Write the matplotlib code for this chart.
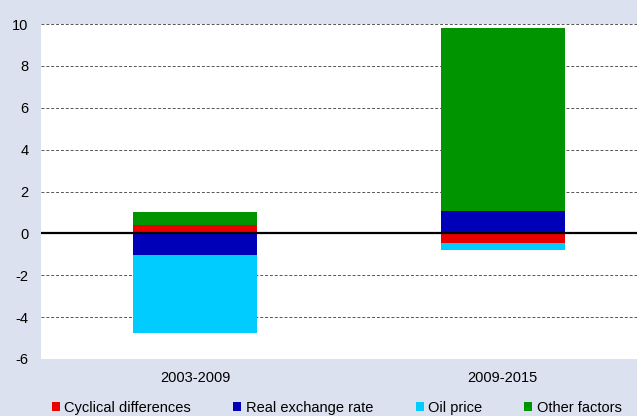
import matplotlib.pyplot as plt
import numpy as np

plt.rcParams['font.family'] = ['Liberation Sans', 'DejaVu Sans']
plt.rcParams['axes.unicode_minus'] = False

# data
periods = ["2003-2009", "2009-2015"]
labels = ["Cyclical differences", "Real exchange rate", "Oil price", "Other factors"]
cyclical = [0.39, -0.44]
real_fx = [-1.03, 1.08]
oil = [-3.74, -0.35]
other = [0.63, 8.74]
colors = ["#e80000", "#0000b8", "#00ccff", "#009400"]

series = [cyclical, real_fx, oil, other]

fig = plt.figure(figsize=(6.37, 4.16), dpi=100, facecolor="#dbe1ee")
ax = fig.add_axes([41 / 637, 1 - 359 / 416, 1 - 41 / 637, (359 - 24) / 416])
ax.set_facecolor("white")

x = np.arange(len(periods))
pos_base = np.zeros(len(periods))
neg_base = np.zeros(len(periods))
handles = []
for vals, lab, col in zip(series, labels, colors):
    vals = np.array(vals)
    base = np.where(vals >= 0, pos_base, neg_base)
    h = ax.bar(x, vals, bottom=base, width=0.403, color=col, label=lab, zorder=3)
    handles.append(h)
    pos_base = pos_base + np.where(vals >= 0, vals, 0)
    neg_base = neg_base + np.where(vals < 0, vals, 0)

ax.axhline(0, color="black", lw=1.6, zorder=4)

#gridlines
ax.set_ylim(-6, 10)
ax.set_yticks(range(-6, 11, 2))
ax.yaxis.grid(True, linestyle=(0, (3, 2)), color="#555555", lw=0.7, zorder=0)
ax.set_xlim(-0.5008, 1.437)
ax.set_xticks(x)
ax.set_xticklabels(periods)
ax.tick_params(axis="both", length=0, labelsize=10.5)
ax.tick_params(axis="y", pad=9)
ax.tick_params(axis="x", pad=8.5)
for s in ax.spines.values():
    s.set_visible(False)

fig.legend(handles=handles, labels=labels, loc="center left", bbox_to_anchor=(52 / 637, 1 - 408 / 416),
           ncol=4, frameon=False, fontsize=10.5, handlelength=0.55, handleheight=0.55,
           handletextpad=0.3, columnspacing=2.9, borderpad=0, borderaxespad=0)

plt.savefig("out.png", dpi=100, facecolor=fig.get_facecolor())
